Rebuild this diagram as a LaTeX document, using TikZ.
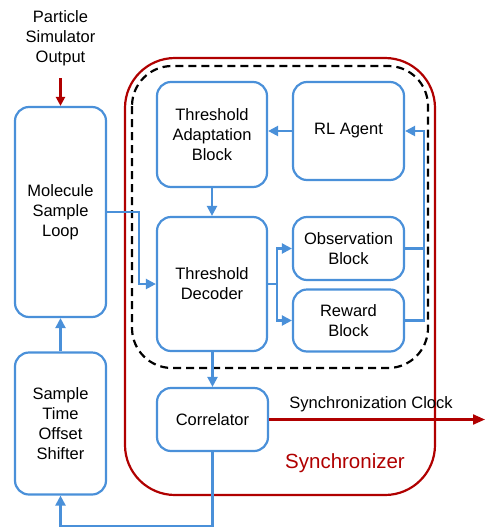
\documentclass[tikz,border=0pt]{standalone}
\usepackage{fontspec}
\setmainfont{Liberation Sans}
\usetikzlibrary{arrows.meta}
\definecolor{boxblue}{RGB}{74,144,217}
\definecolor{syncred}{RGB}{176,0,0}
\tikzset{
  blk/.style={draw=boxblue,line width=2.2pt,rounded corners=14pt,align=center,inner sep=0pt,font=\fontsize{16.5}{20}\selectfont},
  wire/.style={boxblue,line width=2.2pt},
  flow/.style={wire,-{Triangle[length=10pt,width=10pt]}},
  clk/.style={syncred,line width=2.2pt,-{Triangle[length=12pt,width=10pt]}}
}
\begin{document}
\begin{tikzpicture}[x=1pt,y=-1pt]
\useasboundingbox (0,0) rectangle (488,528);
\draw[syncred,line width=2.2pt,rounded corners=50pt] (125,58) rectangle (435,495);
\draw[black,line width=2.2pt,dash pattern=on 8pt off 5pt,rounded corners=40pt] (132,66) rectangle (428,368);
\node[align=center,font=\fontsize{16.5}{20}\selectfont] (pso) at (60.5,38) {Particle\\Simulator\\Output};
\coordinate (pin) at (60.5,78);
\node[blk,minimum width=91pt,minimum height=210pt] (loop) at (60.5,212) {Molecule\\Sample\\Loop};
\node[blk,minimum width=91pt,minimum height=142pt] (shifter) at (60.5,423.5) {Sample\\Time\\Offset\\Shifter};
\node[blk,minimum width=110pt,minimum height=105pt] (adapt) at (212,134.5) {Threshold\\Adaptation\\Block};
\node[blk,minimum width=111pt,minimum height=98pt] (agent) at (348.5,131) {RL Agent};
\node[blk,minimum width=110pt,minimum height=134pt] (decoder) at (212,284) {Threshold\\Decoder};
\node[blk,minimum width=111pt,minimum height=63pt] (obs) at (348.5,248.5) {Observation\\Block};
\node[blk,minimum width=111pt,minimum height=62pt] (reward) at (348.5,320.5) {Reward\\Block};
\node[blk,minimum width=111pt,minimum height=63pt] (corr) at (212.5,419.5) {Correlator};
\node[syncred,font=\fontsize{20.5}{24}\selectfont] (synlabel) at (345,463) {Synchronizer};
\coordinate (clkout) at (485,419.5);
\draw[syncred,line width=2.2pt,-{Triangle[length=9pt,width=9pt]}] (pin) -- (loop.north);
\draw[flow] (shifter) -- (loop);
\draw[flow] (corr.south) -- ++(0,74) -| (shifter.south);
\draw[flow] (loop.east) -- ++(32,0) |- (decoder.west);
\draw[flow] (adapt) -- (decoder);
\draw[flow] (agent.west) -- (agent.west -| adapt.east);
\draw[wire] (decoder.east) -- ++(9,0) coordinate (split);
\draw[flow] (split) |- (obs.west);
\draw[flow] (split) |- (reward.west);
\draw[wire] (obs.east) -- ++(19,0) coordinate (fb);
\draw[flow] (reward.east) -| (fb) |- (agent.east);
\draw[flow] (decoder.south -| corr) -- (corr.north);
\draw[clk] (corr.east) -- node[above=3pt,xshift=-6pt,black,font=\fontsize{16.5}{20}\selectfont] (clklabel) {Synchronization Clock} (clkout);
\end{tikzpicture}
\end{document}
